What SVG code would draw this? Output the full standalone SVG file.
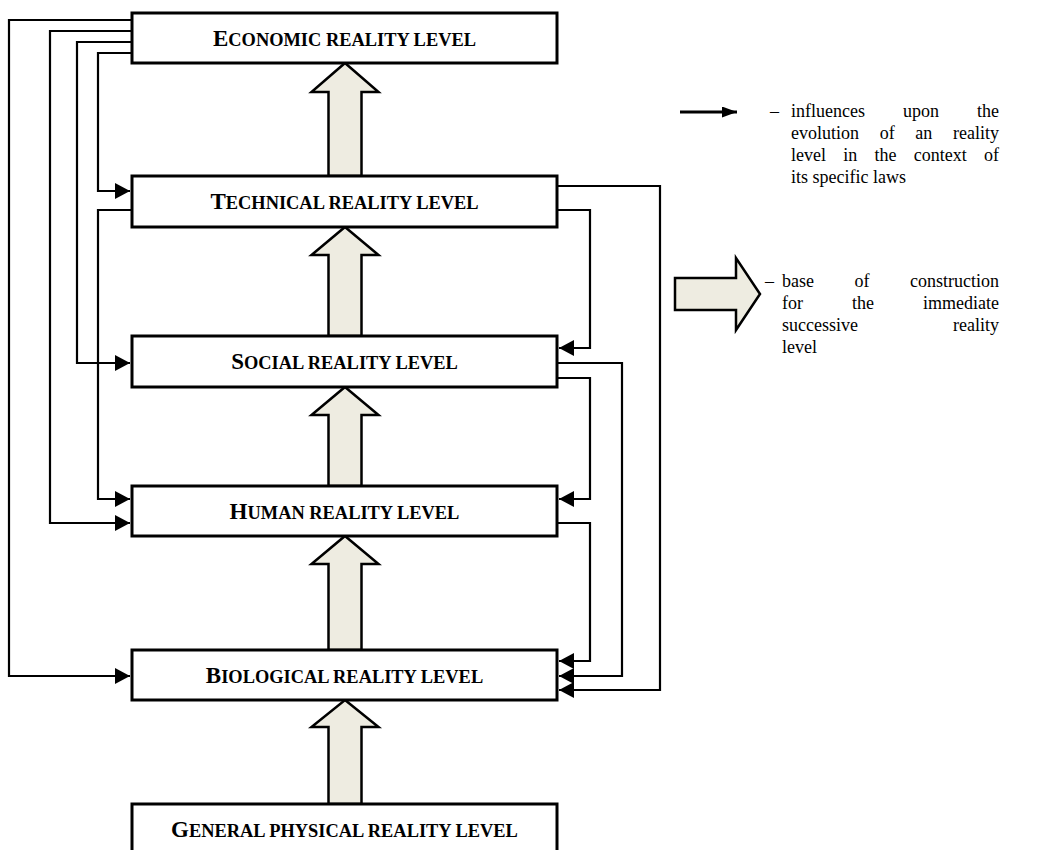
<svg xmlns="http://www.w3.org/2000/svg" width="1040" height="850" viewBox="0 0 1040 850">
<defs>
<style>
.box{fill:#fff;stroke:#000;stroke-width:3}
.lbl{font-family:"Liberation Serif","Times New Roman",serif;font-weight:bold;fill:#000;text-anchor:middle}
.big{font-size:23px}
.sc{font-size:18.4px}
.con{fill:none;stroke:#000;stroke-width:2.2}
.blk{fill:#EEECE1;stroke:#000;stroke-width:2.5;stroke-linejoin:miter}
.leg{font-family:"Liberation Serif","Times New Roman",serif;font-size:18px;fill:#000}
</style>
<marker id="ah" markerUnits="userSpaceOnUse" markerWidth="16" markerHeight="17" refX="15" refY="8" orient="auto">
<path d="M0,0 L15,8 L0,16 Z" fill="#000"/>
</marker>
<marker id="ahl" markerUnits="userSpaceOnUse" markerWidth="16" markerHeight="12" refX="15" refY="5.5" orient="auto">
<path d="M0,0 L15,5.5 L0,11 Z" fill="#000"/>
</marker>
</defs>
<rect width="1040" height="850" fill="#fff"/>

<g id="build-arrows">
<path class="blk" d="M345,63 L378.5,92 L361.5,92 L361.5,176 L328.5,176 L328.5,92 L311.5,92 Z"/>
<path class="blk" d="M345,227 L378.5,255 L361.5,255 L361.5,336 L328.5,336 L328.5,255 L311.5,255 Z"/>
<path class="blk" d="M345,387 L378.5,415 L361.5,415 L361.5,486 L328.5,486 L328.5,415 L311.5,415 Z"/>
<path class="blk" d="M345,536 L378.5,564 L361.5,564 L361.5,650 L328.5,650 L328.5,564 L311.5,564 Z"/>
<path class="blk" d="M345,700 L378.5,727 L361.5,727 L361.5,804 L328.5,804 L328.5,727 L311.5,727 Z"/>
</g>

<g id="connectors">
<path class="con" d="M132,20 H9 V676 H130" marker-end="url(#ah)"/>
<path class="con" d="M132,31 H50 V523 H130" marker-end="url(#ah)"/>
<path class="con" d="M132,42 H77 V363 H130" marker-end="url(#ah)"/>
<path class="con" d="M132,53 H98 V191 H130" marker-end="url(#ah)"/>
<path class="con" d="M132,210 H98 V499 H130" marker-end="url(#ah)"/>
<path class="con" d="M557,186 H660 V690 H559" marker-end="url(#ah)"/>
<path class="con" d="M557,210 H590 V348 H559" marker-end="url(#ah)"/>
<path class="con" d="M557,363 H622 V676 H559" marker-end="url(#ah)"/>
<path class="con" d="M557,378 H590 V499 H559" marker-end="url(#ah)"/>
<path class="con" d="M557,523 H590 V661 H559" marker-end="url(#ah)"/>
</g>

<g id="economic">
<rect class="box" x="132" y="13" width="425" height="50"/>
<text class="lbl" x="344.5" y="46"><tspan class="big">E</tspan><tspan class="sc">CONOMIC REALITY LEVEL</tspan></text>
</g>
<g id="technical">
<rect class="box" x="132" y="176" width="425" height="51"/>
<text class="lbl" x="344.5" y="209"><tspan class="big">T</tspan><tspan class="sc">ECHNICAL REALITY LEVEL</tspan></text>
</g>
<g id="social">
<rect class="box" x="132" y="336" width="425" height="51"/>
<text class="lbl" x="344.5" y="369"><tspan class="big">S</tspan><tspan class="sc">OCIAL REALITY LEVEL</tspan></text>
</g>
<g id="human">
<rect class="box" x="132" y="486" width="425" height="50"/>
<text class="lbl" x="344.5" y="519"><tspan class="big">H</tspan><tspan class="sc">UMAN REALITY LEVEL</tspan></text>
</g>
<g id="biological">
<rect class="box" x="132" y="650" width="425" height="50"/>
<text class="lbl" x="344.5" y="683"><tspan class="big">B</tspan><tspan class="sc">IOLOGICAL REALITY LEVEL</tspan></text>
</g>
<g id="general">
<rect class="box" x="132" y="804" width="425" height="52"/>
<text class="lbl" x="344.5" y="837"><tspan class="big">G</tspan><tspan class="sc">ENERAL PHYSICAL REALITY LEVEL</tspan></text>
</g>

<g id="legend-influence">
<path d="M680,112 H737" stroke="#000" stroke-width="3" fill="none" marker-end="url(#ahl)"/>
<text class="leg">
<tspan x="770" y="117">–</tspan><tspan x="791" y="117">influences</tspan><tspan x="903" y="117">upon</tspan><tspan x="977" y="117">the</tspan>
<tspan x="791" y="139">evolution</tspan><tspan x="879.7" y="139">of</tspan><tspan x="915.3" y="139">an</tspan><tspan x="953" y="139">reality</tspan>
<tspan x="791" y="161">level</tspan><tspan x="843.3" y="161">in</tspan><tspan x="874.5" y="161">the</tspan><tspan x="913.8" y="161">context</tspan><tspan x="984" y="161">of</tspan>
<tspan x="791" y="183">its specific laws</tspan>
</text>
</g>

<g id="legend-base">
<path class="blk" d="M675,278 H736 V258 L760,294 L736,330 V310 H675 Z"/>
<text class="leg">
<tspan x="765" y="287">–</tspan><tspan x="782" y="287">base</tspan><tspan x="854.5" y="287">of</tspan><tspan x="910" y="287">construction</tspan>
<tspan x="782" y="309">for</tspan><tspan x="852" y="309">the</tspan><tspan x="923" y="309">immediate</tspan>
<tspan x="782" y="331">successive</tspan><tspan x="953" y="331">reality</tspan>
<tspan x="782" y="353">level</tspan>
</text>
</g>
</svg>
